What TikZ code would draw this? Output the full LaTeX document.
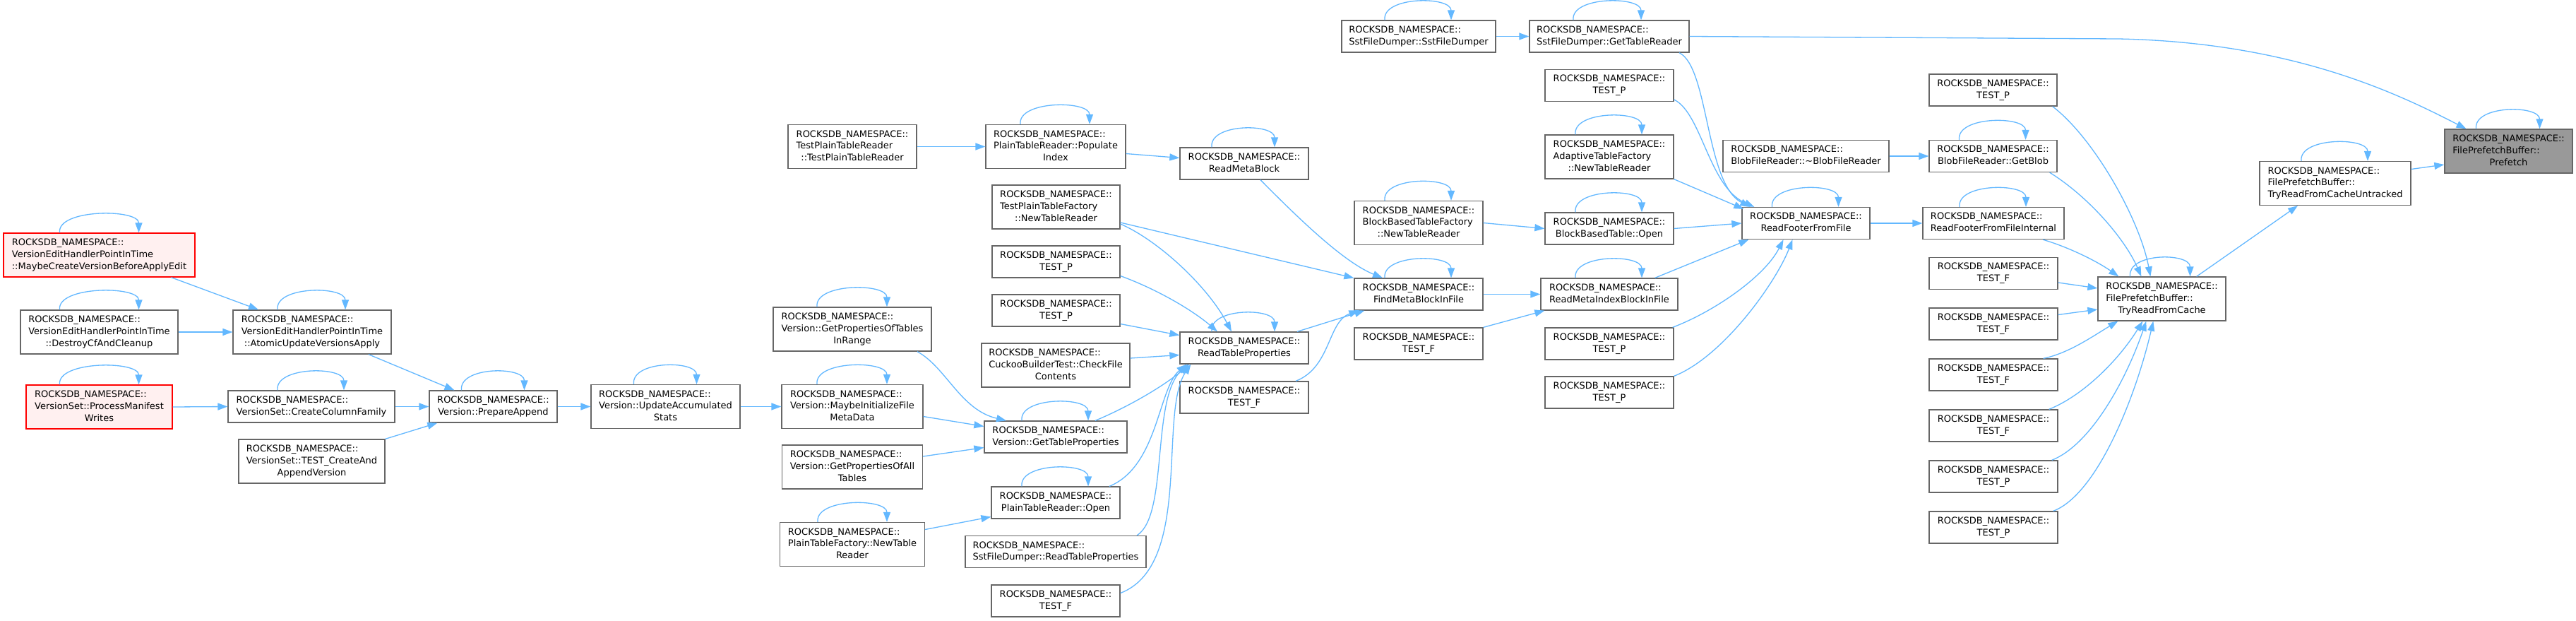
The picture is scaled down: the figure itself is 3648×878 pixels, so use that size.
\documentclass[tikz,border=0pt]{standalone}
\usepackage{fontspec}
\setmainfont{DejaVu Sans}
\usetikzlibrary{arrows.meta,calc}
\definecolor{edgecol}{HTML}{63B8FF}
\definecolor{nodeborder}{HTML}{666666}
\definecolor{redfill}{HTML}{FFF0F0}
\definecolor{rootfill}{HTML}{999999}
\newcommand\lblb[2]{\begin{tabular}{@{}l@{}}#1\\\multicolumn{1}{@{}c@{}}{#2}\end{tabular}}
\newcommand\lblc[3]{\begin{tabular}{@{}l@{}}#1\\#2\\\multicolumn{1}{@{}c@{}}{#3}\end{tabular}}
\newcommand\NS{ROCKSDB\_NAMESPACE::}
\tikzset{
 box/.style={draw=nodeborder, line width=1.3pt, fill=white, inner sep=0pt, font=\fontsize{13}{16.7}\selectfont},
 redbox/.style={box, draw=red, fill=redfill},
 rootbox/.style={box, fill=rootfill},
 edge/.style={draw=edgecol, line width=1.3pt, -{Triangle[length=14pt,width=10pt]}},
}
\newcommand\nd[7][]{\node[box,#1,minimum width=#5pt,minimum height=#6pt] (#2) at (#3,#4) {#7};}
\newcommand\sloop[3]{\draw[edge] ($(#1.north)+(-#2,0)$) .. controls +(-4,-34) and +(0,-34) .. ($(#1.north)+(#3,0)$);}
\begin{document}
\begin{tikzpicture}[x=1pt,y=-1pt]
\fill[white] (0,0) rectangle (3648,878);
\useasboundingbox (0,0) rectangle (3648,878);
% nodes
\nd[redbox]{mcv}{140.5}{361}{271}{62}{\lblc{\NS}{VersionEditHandlerPointInTime}{::MaybeCreateVersionBeforeApplyEdit}}
\nd{dcf}{140.5}{470}{223}{62}{\lblc{\NS}{VersionEditHandlerPointInTime}{::DestroyCfAndCleanup}}
\nd[redbox]{pmw}{140.5}{576}{207}{62}{\lblc{\NS}{VersionSet::ProcessManifest}{Writes}}
\nd{auv}{442}{470}{224}{62}{\lblc{\NS}{VersionEditHandlerPointInTime}{::AtomicUpdateVersionsApply}}
\nd{ccf}{441}{575.5}{236}{45}{\lblb{\NS}{VersionSet::CreateColumnFamily}}
\nd{tca}{441.5}{653}{207}{62}{\lblc{\NS}{VersionSet::TEST\_CreateAnd}{AppendVersion}}
\nd{pa}{698.5}{575.5}{181}{45}{\lblb{\NS}{Version::PrepareAppend}}
\nd{uas}{942.5}{575.5}{211}{62}{\lblc{\NS}{Version::UpdateAccumulated}{Stats}}
\nd{gptr}{1207}{466}{224}{62}{\lblc{\NS}{Version::GetPropertiesOfTables}{InRange}}
\nd{mifm}{1207}{575.5}{200}{62}{\lblc{\NS}{Version::MaybeInitializeFile}{MetaData}}
\nd{gpat}{1207}{661}{199}{62}{\lblc{\NS}{Version::GetPropertiesOfAll}{Tables}}
\nd{ptfn}{1207}{770.5}{205}{62}{\lblc{\NS}{PlainTableFactory::NewTable}{Reader}}
\nd{tptr}{1207}{207.5}{182}{62}{\lblc{\NS}{TestPlainTableReader}{::TestPlainTableReader}}
\nd{pi}{1495}{207.5}{198}{62}{\lblc{\NS}{PlainTableReader::Populate}{Index}}
\nd{tptf}{1495.5}{293}{181}{62}{\lblc{\NS}{TestPlainTableFactory}{::NewTableReader}}
\nd{tpa}{1495.5}{370.5}{181}{45}{\lblb{\NS}{TEST\_P}}
\nd{tpb}{1495.5}{439.5}{181}{45}{\lblb{\NS}{TEST\_P}}
\nd{cfc}{1495}{517}{210}{62}{\lblc{\NS}{CuckooBuilderTest::CheckFile}{Contents}}
\nd{gtp}{1495}{618.5}{202}{45}{\lblb{\NS}{Version::GetTableProperties}}
\nd{ptro}{1495}{711.5}{182}{45}{\lblb{\NS}{PlainTableReader::Open}}
\nd{sfrtp}{1495}{781}{256}{45}{\lblb{\NS}{SstFileDumper::ReadTableProperties}}
\nd{tfa}{1495}{850.5}{182}{45}{\lblb{\NS}{TEST\_F}}
\nd{rmb}{1762}{231.5}{182}{45}{\lblb{\NS}{ReadMetaBlock}}
\nd{rtp}{1762}{492.5}{182}{45}{\lblb{\NS}{ReadTableProperties}}
\nd{tfb}{1762}{562.5}{182}{45}{\lblb{\NS}{TEST\_F}}
\nd{bbtf}{2009}{315.5}{182}{62}{\lblc{\NS}{BlockBasedTableFactory}{::NewTableReader}}
\nd{fmb}{2009}{416.5}{182}{45}{\lblb{\NS}{FindMetaBlockInFile}}
\nd{tfc}{2009}{486.5}{182}{45}{\lblb{\NS}{TEST\_F}}
\nd{sfd}{2009}{51.5}{218}{45}{\lblb{\NS}{SstFileDumper::SstFileDumper}}
\nd{gtr}{2279}{51.5}{226}{45}{\lblb{\NS}{SstFileDumper::GetTableReader}}
\nd{tpc}{2279}{121}{182}{45}{\lblb{\NS}{TEST\_P}}
\nd{atf}{2279}{222}{182}{62}{\lblc{\NS}{AdaptiveTableFactory}{::NewTableReader}}
\nd{bbto}{2279}{323.5}{182}{45}{\lblb{\NS}{BlockBasedTable::Open}}
\nd{rmib}{2279}{416.5}{194}{45}{\lblb{\NS}{ReadMetaIndexBlockInFile}}
\nd{tpd}{2279}{486.5}{182}{45}{\lblb{\NS}{TEST\_P}}
\nd{tpe}{2279}{555.5}{182}{45}{\lblb{\NS}{TEST\_P}}
\nd{bfr}{2557.5}{221}{235}{45}{\lblb{\NS}{BlobFileReader::\textasciitilde BlobFileReader}}
\nd{rff}{2557.5}{316}{181}{45}{\lblb{\NS}{ReadFooterFromFile}}
\nd{tpf}{2822.5}{127.5}{181}{45}{\lblb{\NS}{TEST\_P}}
\nd{gb}{2822.5}{221}{181}{45}{\lblb{\NS}{BlobFileReader::GetBlob}}
\nd{rffi}{2823}{316}{200}{45}{\lblb{\NS}{ReadFooterFromFileInternal}}
\nd{tfg}{2823}{387}{182}{45}{\lblb{\NS}{TEST\_F}}
\nd{tfh}{2823}{458.5}{182}{45}{\lblb{\NS}{TEST\_F}}
\nd{tfi}{2823}{530.5}{182}{45}{\lblb{\NS}{TEST\_F}}
\nd{tfj}{2823}{602.5}{182}{45}{\lblb{\NS}{TEST\_F}}
\nd{tpk}{2823}{674.5}{182}{45}{\lblb{\NS}{TEST\_P}}
\nd{tpl}{2823}{746.5}{182}{45}{\lblb{\NS}{TEST\_P}}
\nd{trc}{3061.5}{423}{181}{62}{\lblc{\NS}{FilePrefetchBuffer::}{TryReadFromCache}}
\nd{trcu}{3307}{259.5}{214}{62}{\lblc{\NS}{FilePrefetchBuffer::}{TryReadFromCacheUntracked}}
\nd[rootbox]{pf}{3552.5}{214}{181}{62}{\lblc{\NS}{FilePrefetchBuffer::}{Prefetch}}
% self loops
\sloop{mcv}{56}{56}\sloop{dcf}{56}{56}\sloop{pmw}{56}{56}
\sloop{auv}{49}{47}\sloop{ccf}{48}{46}\sloop{pa}{45}{44}\sloop{uas}{45}{44}
\sloop{gptr}{50}{49}\sloop{mifm}{50}{49}\sloop{ptfn}{49}{49}
\sloop{pi}{50}{48}\sloop{gtp}{48}{46}\sloop{ptro}{48}{46}
\sloop{rmb}{46}{43}\sloop{rtp}{46}{43}
\sloop{bbtf}{48}{46}\sloop{fmb}{48}{46}
\sloop{sfd}{48}{46}\sloop{gtr}{51}{45}\sloop{atf}{48}{46}\sloop{bbto}{48}{46}\sloop{rmib}{48}{46}
\sloop{rff}{48}{46}\sloop{gb}{48}{46}\sloop{rffi}{48}{46}
\sloop{trc}{45}{40}\sloop{trcu}{48}{46}\sloop{pf}{46}{44}
% edges
\draw[edge] ($(mcv.south)+(102,0)$) -- ($(auv.north)+(-76,0)$);
\draw[edge] (dcf.east) -- (auv.west);
\draw[edge] (pmw.east) -- (ccf.west);
\draw[edge] ($(auv.south)+(80,0)$) -- ($(pa.north)+(-55,0)$);
\draw[edge] (ccf.east) -- (pa.west);
\draw[edge] (tca.north east) -- ($(pa.south west)+(12,0)$);
\draw[edge] (pa.east) -- (uas.west);
\draw[edge] (uas.east) -- (mifm.west);
\draw[edge] ($(gptr.south)+(92,0)$) .. controls (1340,520) and (1360,580) .. ($(gtp.north)+(-70,0)$);
\draw[edge] ($(mifm.east)+(0,14)$) -- ($(gtp.west)+(0,-15)$);
\draw[edge] ($(gpat.east)+(0,-15)$) -- ($(gtp.west)+(0,15)$);
\draw[edge] ($(ptfn.east)+(0,-21)$) -- ($(ptro.west)+(0,20)$);
\draw[edge] (tptr.east) -- (pi.west);
\draw[edge] ($(pi.east)+(0,10)$) -- ($(rmb.west)+(0,-8)$);
\draw[edge] ($(tptf.east)+(0,22)$) -- ($(fmb.west)+(0,-23)$);
\draw[edge] ($(tptf.east)+(0,24)$) .. controls (1640,340) and (1710,405) .. ($(rtp.north)+(-18,0)$);
\draw[edge] ($(tpa.east)+(0,20)$) .. controls (1640,410) and (1690,440) .. ($(rtp.north)+(-38,0)$);
\draw[edge] ($(tpb.east)+(0,19)$) -- ($(rtp.west)+(0,-18)$);
\draw[edge] ($(cfc.east)+(0,-10)$) -- ($(rtp.west)+(0,10)$);
\draw[edge] ($(gtp.north)+(56,0)$) .. controls (1600,575) and (1650,545) .. ($(rtp.south west)+(14,0)$);
\draw[edge] ($(ptro.north)+(76,0)$) .. controls (1640,660) and (1640,550) .. ($(rtp.south west)+(10,0)$);
\draw[edge] ($(sfrtp.north)+(115,0)$) .. controls (1655,730) and (1630,565) .. ($(rtp.south west)+(12,0)$);
\draw[edge] ($(tfa.east)+(0,-11)$) .. controls (1690,800) and (1640,585) .. ($(rtp.south west)+(16,0)$);
\draw[edge] ($(rmb.south)+(23,0)$) .. controls (1830,300) and (1900,370) .. ($(fmb.north)+(-51,0)$);
\draw[edge] ($(rtp.north)+(75,0)$) -- ($(fmb.south west)+(15,0)$);
\draw[edge] ($(tfb.north)+(73,0)$) .. controls (1885,520) and (1880,455) .. ($(fmb.south west)+(7,0)$);
\draw[edge] (bbtf.east) -- (bbto.west);
\draw[edge] (fmb.east) -- (rmib.west);
\draw[edge] (tfc.north east) -- ($(rmib.south west)+(6,0)$);
\draw[edge] (sfd.east) -- (gtr.west);
\draw[edge] ($(gtr.south)+(99,0)$) .. controls (2420,95) and (2415,260) .. ($(rff.north west)+(12,0)$);
\draw[edge] (gtr.east) -- (3000,55) .. controls (3250,60) and (3400,135) .. ($(pf.north)+(-60,0)$);
\draw[edge] ($(tpc.east)+(0,20)$) .. controls (2410,160) and (2420,265) .. ($(rff.north west)+(18,0)$);
\draw[edge] (atf.south east) -- ($(rff.north west)+(3,3)$);
\draw[edge] (bbto.east) -- (rff.west);
\draw[edge] ($(rmib.north east)+(-33,0)$) -- ($(rff.south west)+(10,0)$);
\draw[edge] ($(tpd.north east)+(-2,0)$) .. controls (2430,440) and (2500,390) .. ($(rff.south)+(-32,0)$);
\draw[edge] (tpe.north east) .. controls (2440,505) and (2515,400) .. ($(rff.south)+(-19,0)$);
\draw[edge] (bfr.east) -- (gb.west);
\draw[edge] (rff.east) -- (rffi.west);
\draw[edge] ($(tpf.south east)+(-7,0)$) .. controls (2965,195) and (3030,310) .. ($(trc.north west)+(75,0)$);
\draw[edge] ($(gb.south east)+(-11,0)$) .. controls (2960,280) and (3010,340) .. ($(trc.north west)+(62,0)$);
\draw[edge] ($(rffi.south)+(70,0)$) .. controls (2930,350) and (2970,370) .. ($(trc.north west)+(30,0)$);
\draw[edge] ($(tfg.east)+(0,13)$) -- ($(trc.west)+(0,-15)$);
\draw[edge] ($(tfh.east)+(0,-13)$) -- ($(trc.west)+(0,15)$);
\draw[edge] ($(tfi.north east)+(-21,0)$) .. controls (2930,500) and (2965,475) .. ($(trc.south west)+(29,0)$);
\draw[edge] ($(tfj.north east)+(-13,0)$) .. controls (2950,560) and (3000,510) .. ($(trc.south west)+(64,0)$);
\draw[edge] ($(tpk.north east)+(-9,0)$) .. controls (2960,630) and (3010,540) .. ($(trc.south west)+(69,0)$);
\draw[edge] ($(tpl.north east)+(-7,0)$) .. controls (2970,700) and (3025,560) .. ($(trc.south west)+(79,0)$);
\draw[edge] ($(trc.north east)+(-42,0)$) -- ($(trcu.south)+(-53,0)$);
\draw[edge] ($(trcu.east)+(0,-20)$) -- ($(pf.west)+(0,19)$);
\end{tikzpicture}
\end{document}
